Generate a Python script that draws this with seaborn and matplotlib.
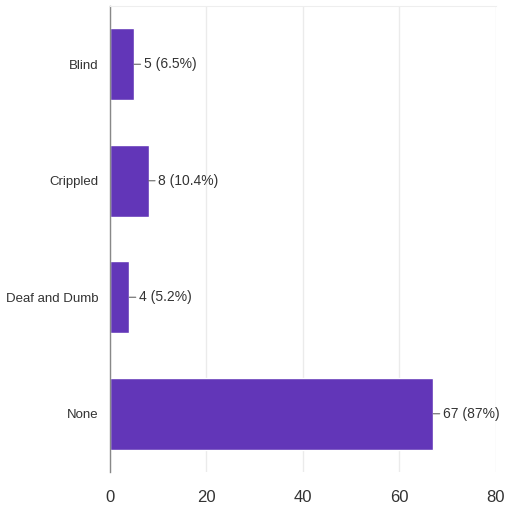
import matplotlib
matplotlib.use("Agg")
import matplotlib.pyplot as plt
import seaborn as sns
import pandas as pd

categories = ["Blind", "Crippled", "Deaf and Dumb", "None"]
counts = [5, 8, 4, 67]
percent_labels = ["6.5%", "10.4%", "5.2%", "87%"]
x_ticks = [0, 20, 40, 60, 80]

sns.set_style("white")
plt.rcParams['font.family'] = ['Liberation Sans Narrow', 'Liberation Sans', 'DejaVu Sans']

df = pd.DataFrame({"category": categories, "count": counts})

fig = plt.figure(figsize=(5.06, 5.18), dpi=100)
ax = fig.add_axes([0.2174, 0.0888, 0.7628, 0.8996])

sns.barplot(data=df, y="category", x="count", orient="h", color="#6236b8",
            width=0.62, ax=ax, saturation=1)

ax.set_xlim(0, 80)
ax.set_ylim(len(categories) - 0.5, -0.5)
ax.set_xticks(x_ticks)
ax.set_xticklabels([str(t) for t in x_ticks], fontsize=12, color="#333333")
ax.tick_params(axis="y", labelsize=9.5, labelcolor="#333333", length=0, pad=8)
ax.tick_params(axis="x", length=0, pad=13)
ax.set_xlabel("")
ax.set_ylabel("")

ax.grid(axis="x", color="#ebebeb", linewidth=1)
ax.set_axisbelow(True)
for s in ["right", "bottom"]:
    ax.spines[s].set_visible(False)
ax.spines["top"].set_color("#eeeeee")
ax.spines["left"].set_color("#888888")
ax.spines["left"].set_linewidth(1)

for i, (c, p) in enumerate(zip(counts, percent_labels)):
    ax.annotate(f"{c} ({p})", xy=(c, i), xytext=(7, 0), textcoords="offset points",
                va="center", ha="left", fontsize=10, color="#333333",
                arrowprops=dict(arrowstyle="-", color="#666666", lw=0.8,
                                shrinkA=0, shrinkB=0))

fig.savefig("out.png", dpi=100)
